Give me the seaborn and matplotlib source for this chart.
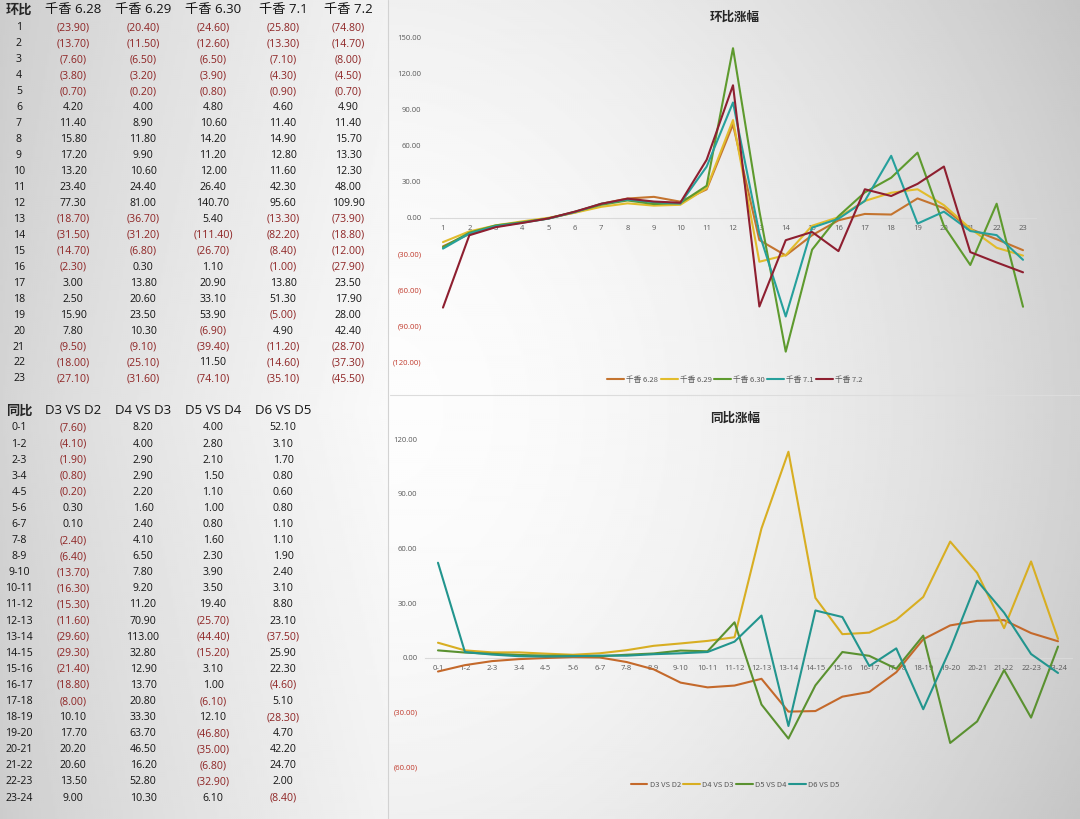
import numpy as np
import pandas as pd
import matplotlib
matplotlib.use("Agg")
import matplotlib.pyplot as plt
from matplotlib.lines import Line2D
import seaborn as sns

# ---------------- data ----------------
hours = list(range(1, 24))
hb_series = ["千香 6.28", "千香 6.29", "千香 6.30", "千香 7.1", "千香 7.2"]
hb_628 = [-23.9, -13.7, -7.6, -3.8, -0.7, 4.2, 11.4, 15.8, 17.2, 13.2, 23.4, 77.3,
          -18.7, -31.5, -14.7, -2.3, 3.0, 2.5, 15.9, 7.8, -9.5, -18.0, -27.1]
hb_629 = [-20.4, -11.5, -6.5, -3.2, -0.2, 4.0, 8.9, 11.8, 9.9, 10.6, 24.4, 81.0,
          -36.7, -31.2, -6.8, 0.3, 13.8, 20.6, 23.5, 10.3, -9.1, -25.1, -31.6]
hb_630 = [-24.6, -12.6, -6.5, -3.9, -0.8, 4.8, 10.6, 14.2, 11.2, 12.0, 26.4, 140.7,
          5.4, -111.4, -26.7, 1.1, 20.9, 33.1, 53.9, -6.9, -39.4, 11.5, -74.1]
hb_71 = [-25.8, -13.3, -7.1, -4.3, -0.9, 4.6, 11.4, 14.9, 12.8, 11.6, 42.3, 95.6,
         -13.3, -82.2, -8.4, -1.0, 13.8, 51.3, -5.0, 4.9, -11.2, -14.6, -35.1]
hb_72 = [-74.8, -14.7, -8.0, -4.5, -0.7, 4.9, 11.4, 15.7, 13.3, 12.3, 48.0, 109.9,
         -73.9, -18.8, -12.0, -27.9, 23.5, 17.9, 28.0, 42.4, -28.7, -37.3, -45.5]

periods = ["0-1", "1-2", "2-3", "3-4", "4-5", "5-6", "6-7", "7-8", "8-9", "9-10",
           "10-11", "11-12", "12-13", "13-14", "14-15", "15-16", "16-17", "17-18",
           "18-19", "19-20", "20-21", "21-22", "22-23", "23-24"]
tb_series = ["D3 VS D2", "D4 VS D3", "D5 VS D4", "D6 VS D5"]
tb_d3 = [-7.6, -4.1, -1.9, -0.8, -0.2, 0.3, 0.1, -2.4, -6.4, -13.7, -16.3, -15.3,
         -11.6, -29.6, -29.3, -21.4, -18.8, -8.0, 10.1, 17.7, 20.2, 20.6, 13.5, 9.0]
tb_d4 = [8.2, 4.0, 2.9, 2.9, 2.2, 1.6, 2.4, 4.1, 6.5, 7.8, 9.2, 11.2,
         70.9, 113.0, 32.8, 12.9, 13.7, 20.8, 33.3, 63.7, 46.5, 16.2, 52.8, 10.3]
tb_d5 = [4.0, 2.8, 2.1, 1.5, 1.1, 1.0, 0.8, 1.6, 2.3, 3.9, 3.5, 19.4,
         -25.7, -44.4, -15.2, 3.1, 1.0, -6.1, 12.1, -46.8, -35.0, -6.8, -32.9, 6.1]
tb_d6 = [52.1, 3.1, 1.7, 0.8, 0.6, 0.8, 1.1, 1.1, 1.9, 2.4, 3.1, 8.8,
         23.1, -37.5, 25.9, 22.3, -4.6, 5.1, -28.3, 4.7, 42.2, 24.7, 2.0, -8.4]

hb_ticks = [-120, -90, -60, -30, 0, 30, 60, 90, 120, 150]
tb_ticks = [-60, -30, 0, 30, 60, 90, 120]

hb_colors = ["#C4742F", "#E2BC2C", "#5E9A2E", "#26A09C", "#8E1F30"]
tb_colors = ["#C4692B", "#D8AE22", "#5A9130", "#22958E"]

# ---------------- figure ----------------
sns.set_theme(style="white")
plt.rcParams["font.family"] = ["Open Sans", "Noto Sans CJK SC", "DejaVu Sans"]
W, H = 1080, 819
fig = plt.figure(figsize=(W / 100, H / 100), dpi=100)

# background shading
bg = fig.add_axes([0, 0, 1, 1], zorder=-10)
yy, xx = np.mgrid[0:H:2, 0:W:2].astype(float)
left = 0.83 + 0.15 * np.clip(xx / 388.0, 0, 1) ** 0.8 - 0.03 * np.abs(yy - 410) / 410
tx = np.clip((xx - 390) / 690.0, 0, 1)
right = 0.99 - 0.17 * tx ** 1.8 - 0.05 * (np.abs(yy - 410) / 410) ** 2
img = np.where(xx < 388, left, right)
bg.imshow(img, cmap="gray", vmin=0, vmax=1, extent=[0, W, H, 0], aspect="auto",
          interpolation="bilinear")
bg.set_xlim(0, W); bg.set_ylim(H, 0); bg.axis("off")
bg.plot([388, 388], [0, H], color="#d2d2d2", lw=0.8)
bg.plot([390, W], [395, 395], color="#dcdcdc", lw=0.8)


def px(x, y):
    return x / W, 1 - y / H


NEG = "#8E2424"
POS = "#141414"


def fmt(v):
    return f"({abs(v):.2f})" if v < 0 else f"{v:.2f}"


# ---------------- left tables ----------------
fig.text(*px(19, 10), "环比", ha="center", va="center", fontsize=9.5, fontweight="bold",
         family=["Noto Sans CJK SC"])
hb_cols_x = [73, 143, 213, 283, 348]
hb_vals = [hb_628, hb_629, hb_630, hb_71, hb_72]
for cx, name in zip(hb_cols_x, hb_series):
    fig.text(*px(cx, 10), name, ha="center", va="center", fontsize=9.5, color=POS,
             family=["Open Sans", "Noto Sans CJK SC"])
for i, h in enumerate(hours):
    y = 28 + i * 15.95
    fig.text(*px(19, y), str(h), ha="center", va="center", fontsize=7.6, color=POS)
    for cx, vals in zip(hb_cols_x, hb_vals):
        v = vals[i]
        fig.text(*px(cx, y), fmt(v), ha="center", va="center", fontsize=7.6,
                 color=NEG if v < 0 else POS)

fig.text(*px(19, 411), "同比", ha="center", va="center", fontsize=9.5, fontweight="bold",
         family=["Noto Sans CJK SC"])
tb_cols_x = [73, 143, 213, 283]
tb_vals = [tb_d3, tb_d4, tb_d5, tb_d6]
for cx, name in zip(tb_cols_x, tb_series):
    fig.text(*px(cx, 411), name, ha="center", va="center", fontsize=9.5, color=POS)
for i, p in enumerate(periods):
    y = 428 + i * 16.09
    fig.text(*px(19, y), p, ha="center", va="center", fontsize=7.6, color=POS)
    for cx, vals in zip(tb_cols_x, tb_vals):
        v = vals[i]
        fig.text(*px(cx, y), fmt(v), ha="center", va="center", fontsize=7.6,
                 color=NEG if v < 0 else POS)


# ---------------- charts ----------------
def style_axis(ax, ticks, ypad):
    ax.set_facecolor("none")
    for s in ["top", "right", "left"]:
        ax.spines[s].set_visible(False)
    ax.spines["bottom"].set_position(("data", 0))
    ax.spines["bottom"].set_color("#d9d9d9")
    ax.spines["bottom"].set_linewidth(0.8)
    ax.spines["bottom"].set_zorder(0)
    ax.set_yticks(ticks)
    ax.set_yticklabels([fmt(t) for t in ticks], fontsize=5.5)
    for lab, t in zip(ax.get_yticklabels(), ticks):
        lab.set_color("#C0392B" if t < 0 else "#595959")
    ax.tick_params(axis="both", length=0)
    ax.tick_params(axis="x", labelsize=5.5, labelcolor="#595959", pad=5)
    ax.tick_params(axis="y", pad=ypad)
    ax.grid(False)
    ax.set_xlabel("")
    ax.set_ylabel("")


df_hb = pd.DataFrame({"hour": hours * 5,
                      "value": hb_628 + hb_629 + hb_630 + hb_71 + hb_72,
                      "series": [s for s in hb_series for _ in hours]})
b1, t1 = 1 - 362 / H, 1 - 37 / H
ax1 = fig.add_axes([429.8 / W, b1, (1036.2 - 429.8) / W, t1 - b1])
sns.lineplot(data=df_hb, x="hour", y="value", hue="series", hue_order=hb_series,
             palette=hb_colors, linewidth=1.5, ax=ax1, legend=False, sort=False)
ax1.set_xlim(0.5, 23.5)
ax1.set_ylim(-120, 150)
ax1.set_xticks(hours)
ax1.set_xticklabels([str(h) for h in hours])
style_axis(ax1, hb_ticks, 6)
fig.text(*px(735, 17), "环比涨幅", ha="center", va="center", fontsize=9,
         fontweight="bold", color="#262626", family=["Noto Sans CJK SC"])
h1 = [Line2D([], [], color=c, lw=1.5) for c in hb_colors]
fig.legend(h1, hb_series, loc="center", bbox_to_anchor=px(735, 380), ncol=5,
           frameon=False, handlelength=2.2, columnspacing=0.3,
           handletextpad=0.3, labelcolor="#595959",
           prop={"family": ["Noto Sans CJK SC"], "size": 5.5})

df_tb = pd.DataFrame({"period": periods * 4,
                      "value": tb_d3 + tb_d4 + tb_d5 + tb_d6,
                      "series": [s for s in tb_series for _ in periods]})
b2, t2 = 1 - 767 / H, 1 - 439 / H
ax2 = fig.add_axes([424.5 / W, b2, (1071.5 - 424.5) / W, t2 - b2])
sns.lineplot(data=df_tb, x="period", y="value", hue="series", hue_order=tb_series,
             palette=tb_colors, linewidth=1.5, ax=ax2, legend=False, sort=False)
ax2.set_xlim(-0.5, len(periods) - 0.5)
ax2.set_ylim(-60, 120)
ax2.set_xticks(range(len(periods)))
ax2.set_xticklabels(periods)
style_axis(ax2, tb_ticks, 5)
fig.text(*px(735, 418), "同比涨幅", ha="center", va="center", fontsize=9,
         fontweight="bold", color="#262626", family=["Noto Sans CJK SC"])
h2 = [Line2D([], [], color=c, lw=1.5) for c in tb_colors]
fig.legend(h2, tb_series, loc="center", bbox_to_anchor=px(735, 785), ncol=4,
           frameon=False, handlelength=2.2, columnspacing=0.3,
           handletextpad=0.3, labelcolor="#595959",
           prop={"family": ["Noto Sans CJK SC"], "size": 5.5})

fig.savefig("out.png", dpi=100)
